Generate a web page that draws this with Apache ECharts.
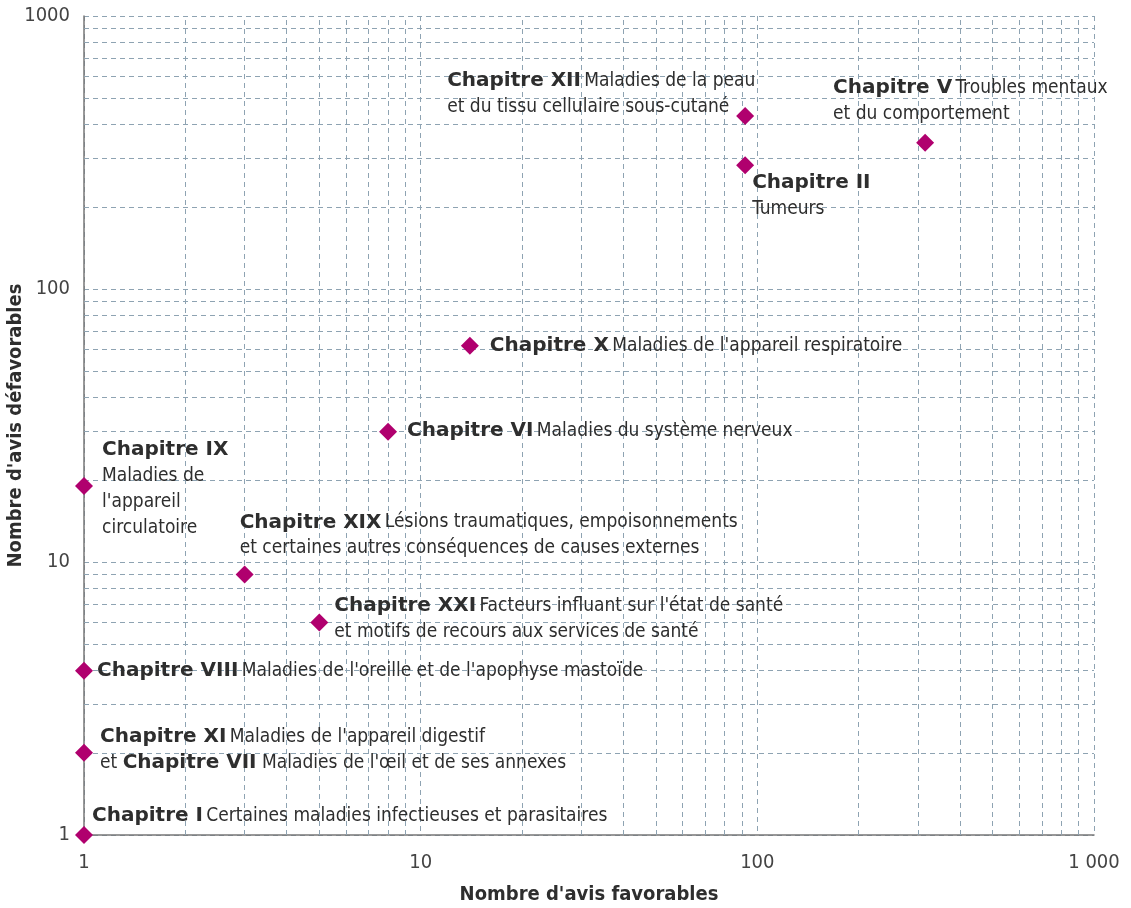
<!DOCTYPE html>
<html lang="fr">
<head>
    <meta charset="UTF-8">
    <title>Avis favorables / défavorables par chapitre</title>
    <script src="https://cdn.jsdelivr.net/npm/echarts@6/dist/echarts.min.js"></script>
    <style>
        html, body { margin: 0; padding: 0; background: #fff; }
        #paint { width: 1131px; height: 908px; }
    </style>
</head>
<body>
<div id="paint"></div>
<script type="text/javascript">
    // données
    var chapters = ['Chapitre XII', 'Chapitre V', 'Chapitre II', 'Chapitre X', 'Chapitre VI', 'Chapitre IX',
                    'Chapitre XIX', 'Chapitre XXI', 'Chapitre VIII', 'Chapitre XI', 'Chapitre I'];
    var favorables   = [92, 315, 92, 14, 8, 1, 3, 5, 1, 1, 1];
    var defavorables = [430, 343, 284, 62, 30, 19, 9, 6, 4, 2, 1];
    var descriptions = [
        ' {r|Maladies de la peau}\n{r|et du tissu cellulaire sous-cutané}',
        ' {r|Troubles mentaux}\n{r|et du comportement}',
        '\n{r|Tumeurs}',
        ' {r|Maladies de l\'appareil respiratoire}',
        ' {r|Maladies du système nerveux}',
        '\n{r|Maladies de}\n{r|l\'appareil}\n{r|circulatoire}',
        ' {r|Lésions traumatiques, empoisonnements}\n{r|et certaines autres conséquences de causes externes}',
        ' {r|Facteurs influant sur l\'état de santé}\n{r|et motifs de recours aux services de santé}',
        ' {r|Maladies de l\'oreille et de l\'apophyse mastoïde}',
        ' {r|Maladies de l\'appareil digestif}\n{r|et }{b|Chapitre VII}{r| Maladies de l\'œil et de ses annexes}',
        ' {r|Certaines maladies infectieuses et parasitaires}'
    ];
    // lignes de la grille (secondaires)
    var minorTicks = [2, 3, 4, 5, 6, 7, 8, 9, 20, 30, 40, 50, 60, 70, 80, 90, 200, 300, 400, 500, 600, 700, 800, 900];

    // décalage des étiquettes (px) par rapport au centre du losange
    var labelOffsets = [[-298, -48], [-92, -68], [7, 5], [20, -13], [19, -14], [18, -49],
                        [-5, -65], [15, -30], [13, -13], [16, -29], [8, -32]];

    var SYM = 18;
    var gridColor = '#8ea3b2';
    var textColor = '#2e2e2e';
    var narrow = '"Liberation Sans Narrow", "Arial Narrow", "DejaVu Sans Condensed", sans-serif';

    var points = [];
    for (var i = 0; i < chapters.length; i++) {
        points.push({
            value: [favorables[i], defavorables[i]],
            label: {
                show: true,
                position: [SYM / 2 + labelOffsets[i][0], SYM / 2 + labelOffsets[i][1]],
                align: 'left',
                verticalAlign: 'top',
                formatter: '{b|' + chapters[i] + '}' + descriptions[i]
            }
        });
    }

    var minorLines = [];
    minorTicks.forEach(function (v) {
        minorLines.push({ xAxis: v });
        minorLines.push({ yAxis: v });
    });

    var myChart = echarts.init(document.getElementById('paint'));
    var option = {
        animation: false,
        grid: { left: 84, right: 37, top: 16, bottom: 73, containLabel: false, outerBoundsMode: 'none' },
        xAxis: {
            type: 'log', logBase: 10, min: 1, max: 1000,
            name: "Nombre d'avis favorables",
            nameLocation: 'middle', nameGap: 50, nameMoveOverlap: false,
            nameTextStyle: { fontFamily: narrow, fontWeight: 'bold', fontSize: 20, color: textColor },
            axisLine: { lineStyle: { color: '#777', width: 1.5 } },
            axisTick: { show: false },
            axisLabel: {
                margin: 18, fontFamily: narrow, fontSize: 20, color: '#444',
                formatter: function (v) { return v === 1000 ? '1 000' : String(v); }
            },
            splitLine: { show: true, lineStyle: { color: gridColor, type: [5, 4], width: 1 } }
        },
        yAxis: {
            type: 'log', logBase: 10, min: 1, max: 1000,
            name: "Nombre d'avis défavorables",
            nameLocation: 'middle', nameGap: 58, nameRotate: 90, nameMoveOverlap: false,
            nameTextStyle: { fontFamily: narrow, fontWeight: 'bold', fontSize: 20, color: textColor },
            axisLine: { show: true, lineStyle: { color: '#777', width: 1.5 } },
            axisTick: { show: false },
            axisLabel: {
                margin: 14, fontFamily: narrow, fontSize: 20, color: '#444',
                formatter: function (v) { return String(v); }
            },
            splitLine: { show: true, lineStyle: { color: gridColor, type: [5, 4], width: 1 } }
        },
        series: [{
            type: 'scatter',
            symbol: 'diamond',
            symbolSize: SYM,
            clip: false,
            z: 5,
            itemStyle: { color: '#b0006e', opacity: 1 },
            label: {
                rich: {
                    b: { fontFamily: '"DejaVu Sans", Verdana, sans-serif', fontWeight: 'bold', fontSize: 20,
                         color: textColor, lineHeight: 26 },
                    r: { fontFamily: narrow, fontSize: 19, color: textColor, lineHeight: 26 }
                }
            },
            data: points,
            markLine: {
                silent: true,
                symbol: 'none',
                label: { show: false },
                lineStyle: { color: gridColor, type: [5, 4], width: 1 },
                data: minorLines,
                z: 1
            }
        }]
    };
    myChart.setOption(option);
</script>
</body>
</html>
